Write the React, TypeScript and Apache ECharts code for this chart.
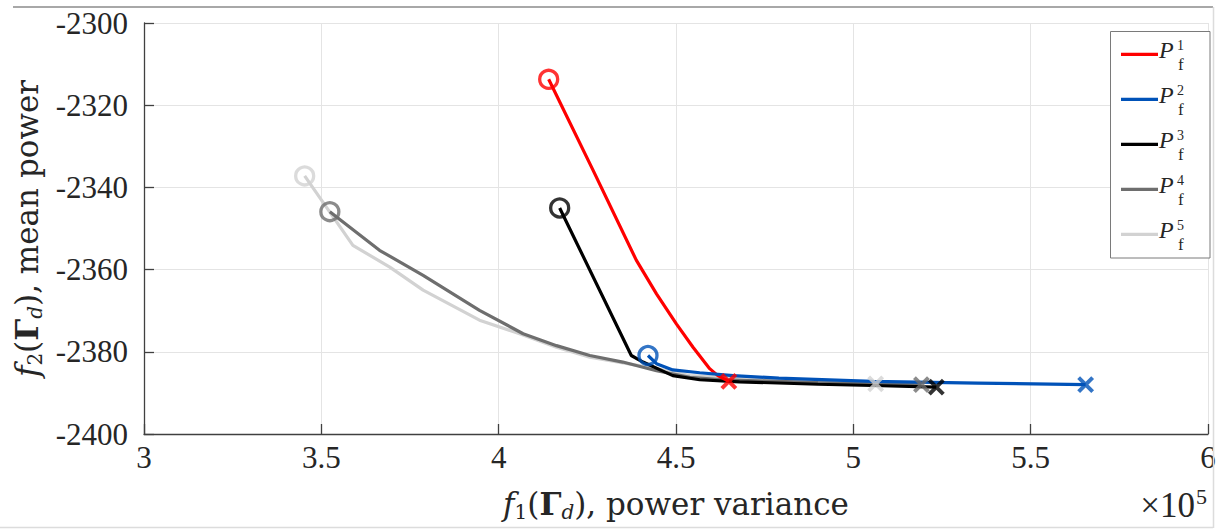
import React, { useEffect, useRef } from "react";
import * as echarts from "echarts";

// ---- data (x in units of 1e5) ----
const p1x = [4.141, 4.266, 4.388, 4.445, 4.501, 4.548, 4.595, 4.618, 4.649];
const p1y = [-2313.7, -2335.8, -2357.7, -2365.9, -2373.2, -2378.9, -2384.1, -2385.8, -2387.2];

const p2x = [4.421, 4.445, 4.491, 4.567, 4.661, 4.79, 5.054, 5.35, 5.655];
const p2y = [-2380.9, -2382.9, -2384.4, -2385.1, -2385.8, -2386.4, -2387.2, -2387.6, -2388.0];

const p3x = [4.172, 4.374, 4.407, 4.491, 4.567, 4.679, 4.9, 5.054, 5.234];
const p3y = [-2345.0, -2380.9, -2382.5, -2385.8, -2386.8, -2387.3, -2387.9, -2388.2, -2388.6];

const p4x = [3.524, 3.664, 3.787, 3.946, 4.069, 4.163, 4.257, 4.35, 4.445, 4.539, 4.632, 4.9, 5.192];
const p4y = [-2345.9, -2355.3, -2361.4, -2369.9, -2375.6, -2378.5, -2380.9, -2382.5, -2384.6, -2386.2, -2386.8, -2387.5, -2388.0];

const p5x = [3.453, 3.589, 3.693, 3.787, 3.946, 4.059, 4.163, 4.257, 4.445, 4.539, 4.8, 5.063];
const p5y = [-2337.2, -2354.1, -2359.4, -2365.0, -2372.3, -2375.6, -2378.9, -2381.3, -2384.1, -2385.8, -2387.0, -2387.8];

const seriesX = [p1x, p2x, p3x, p4x, p5x];
const seriesY = [p1y, p2y, p3y, p4y, p5y];
const seriesNames = ["P_f^1", "P_f^2", "P_f^3", "P_f^4", "P_f^5"];
const legendSup = ["1", "2", "3", "4", "5"];
const colors = ["#ff0000", "#0052b8", "#000000", "#6e6e6e", "#d2d2d2"];

const xMin = 3;
const xMax = 6;
const xStep = 0.5;
const yMin = -2400;
const yMax = -2300;
const yStep = 20;

const SERIF = "'Liberation Serif', 'DejaVu Serif', serif";
const TSERIF = "'DejaVu Serif', 'Liberation Serif', serif";
const CROSS = "path://M0,0L10,10M10,0L0,10";
const TXT = "#262626";

function titleRich() {
  return {
    fi: { fontFamily: TSERIF, fontStyle: "italic", fontSize: 31, color: TXT, lineHeight: 36 },
    sub: { fontFamily: TSERIF, fontSize: 20, color: TXT, lineHeight: 12, verticalAlign: "bottom" },
    n: { fontFamily: TSERIF, fontSize: 31, color: TXT, lineHeight: 36 },
    b: { fontFamily: TSERIF, fontWeight: "bold", fontSize: 31, color: TXT, lineHeight: 36 },
    dsub: { fontFamily: TSERIF, fontStyle: "italic", fontSize: 20, color: TXT, lineHeight: 12, verticalAlign: "bottom" },
  };
}

export default function App() {
  const ref = useRef<HTMLDivElement>(null);

  useEffect(() => {
    document.body.style.margin = "0";
    if (!ref.current) return;
    const chart = echarts.init(ref.current, null, { renderer: "svg" });

    const lineSeries = seriesNames.map((name, i) => ({
      name,
      type: "line",
      data: seriesX[i].map((x, k) => [x, seriesY[i][k]]),
      showSymbol: false,
      symbol: "none",
      lineStyle: { color: colors[i], width: 3.2 },
      itemStyle: { color: colors[i] },
      z: 2 + (i === 1 ? 1 : 0),
      silent: true,
    }));

    const startSeries = seriesNames.map((name, i) => ({
      name: name + " start",
      type: "scatter",
      data: [[seriesX[i][0], seriesY[i][0]]],
      symbol: "circle",
      symbolSize: 18,
      itemStyle: { color: "transparent", borderColor: colors[i], borderWidth: 3.3 },
      z: 4,
      silent: true,
    }));

    const endSeries = seriesNames.map((name, i) => {
      const n = seriesX[i].length - 1;
      return {
        name: name + " end",
        type: "scatter",
        data: [[seriesX[i][n], seriesY[i][n]]],
        symbol: CROSS,
        symbolSize: 14,
        itemStyle: { color: "transparent", borderColor: colors[i], borderWidth: 4 },
        z: 5,
        silent: true,
      };
    });

    const legendItems: any[] = [];
    seriesNames.forEach((_, i) => {
      const y = 54.3 + 45 * i;
      legendItems.push({
        type: "line",
        z: 20,
        shape: { x1: 1121, y1: y, x2: 1158, y2: y },
        style: { stroke: colors[i], lineWidth: 3.2 },
      });
      legendItems.push({
        type: "text",
        z: 20,
        x: 1159,
        y: y - 4,
        style: {
          text: "P",
          fontFamily: SERIF,
          fontStyle: "italic",
          fontSize: 24,
          fill: TXT,
          verticalAlign: "middle",
        },
      });
      legendItems.push({
        type: "text",
        z: 20,
        x: 1177,
        y: y - 9,
        style: {
          text: legendSup[i],
          fontFamily: SERIF,
          fontSize: 14,
          fill: TXT,
          verticalAlign: "middle",
        },
      });
      legendItems.push({
        type: "text",
        z: 20,
        x: 1178,
        y: y + 10,
        style: {
          text: "f",
          fontFamily: SERIF,
          fontSize: 17,
          fill: TXT,
          verticalAlign: "middle",
        },
      });
    });

    const option: any = {
      animation: false,
      backgroundColor: "#ffffff",
      grid: { left: 144, right: 15, top: 23, bottom: 95, containLabel: false },
      xAxis: {
        type: "value",
        min: xMin,
        max: xMax,
        interval: xStep,
        axisLine: { show: true, onZero: false, lineStyle: { color: "#404040", width: 1.3 } },
        axisTick: { show: true, inside: true, length: 10, lineStyle: { color: "#404040", width: 1.3 } },
        splitLine: { show: true, lineStyle: { color: "#e4e4e4", width: 1 } },
        axisLabel: {
          margin: 8,
          fontFamily: SERIF,
          fontSize: 31,
          color: TXT,
          showMinLabel: true,
          showMaxLabel: true,
          formatter: (v: number) => String(v),
        },
        name: "{fi|f}{sub|1}{n|(}{b|Γ}{dsub|d}{n|), power variance}",
        nameLocation: "middle",
        nameGap: 52,
        nameTextStyle: { rich: titleRich() },
      },
      yAxis: {
        type: "value",
        min: yMin,
        max: yMax,
        interval: yStep,
        axisLine: { show: true, onZero: false, lineStyle: { color: "#404040", width: 1.3 } },
        axisTick: { show: true, inside: true, length: 10, lineStyle: { color: "#404040", width: 1.3 } },
        splitLine: { show: true, lineStyle: { color: "#e4e4e4", width: 1 } },
        axisLabel: {
          margin: 16,
          fontFamily: SERIF,
          fontSize: 31,
          color: TXT,
          showMinLabel: true,
          showMaxLabel: true,
          formatter: (v: number) => String(v),
        },
        name: "{fi|f}{sub|2}{n|(}{b|Γ}{dsub|d}{n|), mean power}",
        nameLocation: "middle",
        nameRotate: 90,
        nameGap: 98,
        nameTextStyle: { rich: titleRich() },
      },
      graphic: [
        { type: "line", z: 1, shape: { x1: 13, y1: 7, x2: 1213, y2: 7 }, style: { stroke: "#a8a8a8", lineWidth: 2 } },
        { type: "line", z: 1, shape: { x1: 1213.5, y1: 7, x2: 1213.5, y2: 528 }, style: { stroke: "#dcdcdc", lineWidth: 1.5 } },
        { type: "line", z: 1, shape: { x1: 0, y1: 527.5, x2: 1213, y2: 527.5 }, style: { stroke: "#dcdcdc", lineWidth: 1.5 } },
        {
          type: "text",
          x: 1207,
          y: 504,
          style: {
            text: "{a|×10}{s|5}",
            align: "right",
            verticalAlign: "middle",
            rich: {
              a: { fontFamily: SERIF, fontSize: 35, fill: TXT, lineHeight: 38, verticalAlign: "bottom" },
              s: { fontFamily: SERIF, fontSize: 22, fill: TXT, lineHeight: 38, verticalAlign: "top", padding: [0, 0, 0, 1] },
            },
          },
        },
        {
          type: "rect",
          z: 10,
          shape: { x: 1110.5, y: 31.5, width: 99.5, height: 226.5 },
          style: { fill: "#ffffff", stroke: "#7a7a7a", lineWidth: 1 },
        },
        ...legendItems,
      ],
      series: [...lineSeries.slice().reverse(), ...startSeries, ...endSeries],
    };

    chart.setOption(option);
    return () => chart.dispose();
  }, []);

  return <div ref={ref} style={{ width: 1223, height: 529 }} />;
}
